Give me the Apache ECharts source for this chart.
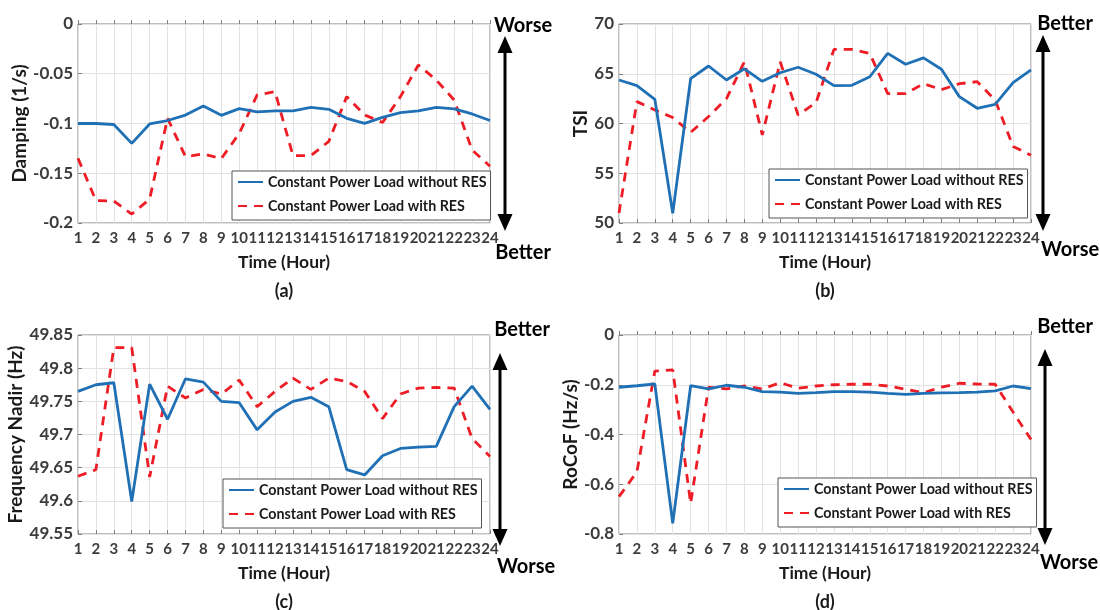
<!DOCTYPE html>
<html>
<head>
<meta charset="utf-8">
<script src="https://cdn.jsdelivr.net/npm/echarts@6/dist/echarts.min.js"></script>
<style>
html,body{margin:0;padding:0;background:#fff;}
#c{width:1100px;height:610px;}
</style>
</head>
<body>
<div id="c"></div>
<script>
// ---------- data ----------
const hours = [1,2,3,4,5,6,7,8,9,10,11,12,13,14,15,16,17,18,19,20,21,22,23,24];
const seriesNames = ['Constant Power Load without RES', 'Constant Power Load with RES'];

const dampingNoRES = [-0.100,-0.100,-0.101,-0.120,-0.1005,-0.097,-0.0915,-0.0824,-0.0918,-0.085,-0.0884,-0.0874,-0.0874,-0.0837,-0.0857,-0.0948,-0.0998,-0.0938,-0.089,-0.0874,-0.0837,-0.0854,-0.0904,-0.097];
const dampingRES   = [-0.135,-0.1775,-0.178,-0.191,-0.176,-0.0948,-0.1333,-0.1306,-0.1353,-0.110,-0.0713,-0.068,-0.1323,-0.1323,-0.118,-0.073,-0.0914,-0.099,-0.073,-0.0412,-0.0563,-0.0764,-0.1266,-0.143];

const tsiNoRES = [64.37,63.8,62.43,50.98,64.5,65.78,64.37,65.5,64.24,65.1,65.65,64.95,63.8,63.84,64.7,67.05,65.95,66.6,65.45,62.7,61.53,61.93,64.1,65.38];
const tsiRES   = [51.0,62.2,61.36,60.6,59.1,60.7,62.5,66.2,58.85,66.2,60.86,62.1,67.45,67.45,67.05,63.0,63.0,64.0,63.4,64.0,64.2,62.36,57.7,56.8];

const nadirNoRES = [49.765,49.775,49.778,49.599,49.776,49.723,49.784,49.779,49.750,49.748,49.707,49.734,49.750,49.756,49.742,49.647,49.639,49.668,49.679,49.681,49.682,49.742,49.773,49.738];
const nadirRES   = [49.637,49.647,49.831,49.831,49.636,49.773,49.755,49.768,49.761,49.782,49.742,49.765,49.785,49.768,49.785,49.780,49.765,49.724,49.761,49.770,49.771,49.770,49.694,49.667];

const rocofNoRES = [-0.21,-0.204,-0.197,-0.757,-0.204,-0.217,-0.202,-0.21,-0.228,-0.23,-0.235,-0.232,-0.228,-0.228,-0.23,-0.235,-0.239,-0.235,-0.233,-0.232,-0.23,-0.225,-0.205,-0.216];
const rocofRES   = [-0.65,-0.55,-0.145,-0.14,-0.677,-0.21,-0.217,-0.205,-0.217,-0.192,-0.214,-0.205,-0.2,-0.198,-0.198,-0.205,-0.218,-0.232,-0.21,-0.194,-0.197,-0.198,-0.31,-0.42];

const yTitles = ['Damping (1/s)', 'TSI', 'Frequency Nadir (Hz)', 'RoCoF (Hz/s)'];
const xTitle = 'Time (Hour)';
const panelTags = ['(a)', '(b)', '(c)', '(d)'];
const yRanges = [[-0.2, 0, 0.05], [50, 70, 5], [49.55, 49.85, 0.05], [-0.8, 0, 0.2]];
const arrowTexts = [['Worse','Better'], ['Better','Worse'], ['Better','Worse'], ['Better','Worse']];

// ---------- layout ----------
const FONT = 'Lato, "Open Sans", sans-serif';
const grids = [
  {left: 78, top: 24, width: 412, height: 199},
  {left: 619, top: 24, width: 412, height: 199},
  {left: 78, top: 335, width: 412, height: 199},
  {left: 619, top: 335, width: 412, height: 199}
];
const yNameGaps = [45, 29, 50, 38];
const legendPos = [
  {left: 232, top: 171}, {left: 769, top: 169}, {left: 223, top: 479}, {left: 778, top: 478}
];
const arrows = [
  {x: 505, y1: 36, y2: 231, t1: [523, 26], t2: [523, 253]},
  {x: 1043, y1: 35, y2: 231, t1: [1065, 24], t2: [1070, 250]},
  {x: 500, y1: 353, y2: 546, t1: [522, 330], t2: [526, 567]},
  {x: 1045, y1: 349, y2: 545, t1: [1065, 327], t2: [1069, 563]}
];
const BLUE = '#1f70b5';
const RED = '#ee1c25';
const FRAME = '#808080';

const allData = [[dampingNoRES, dampingRES], [tsiNoRES, tsiRES], [nadirNoRES, nadirRES], [rocofNoRES, rocofRES]];

const option = {
  animation: false,
  backgroundColor: '#fff',
  textStyle: {fontFamily: FONT},
  grid: grids.map(g => Object.assign({show: true, borderColor: FRAME, borderWidth: 1, containLabel: false, outerBoundsMode: 'none'}, g)),
  xAxis: [], yAxis: [], series: [], legend: [], graphic: []
};

grids.forEach((g, i) => {
  option.xAxis.push({
    type: 'value', gridIndex: i, min: 1, max: 24, interval: 1,
    name: xTitle, nameLocation: 'middle', nameGap: 30,
    nameTextStyle: {fontSize: 17.5, fontWeight: 'bold', color: '#1a1a1a', fontFamily: FONT},
    axisLine: {show: false},
    axisTick: {show: true, inside: true, length: 4, lineStyle: {color: FRAME}},
    axisLabel: {fontSize: 15, fontWeight: 'bold', color: '#3c3c3c', margin: 8, fontFamily: FONT,
                showMinLabel: true, showMaxLabel: true, hideOverlap: false},
    splitLine: {show: true, lineStyle: {color: '#e2e2e2', width: 1}}
  });
  option.yAxis.push({
    type: 'value', gridIndex: i, min: yRanges[i][0], max: yRanges[i][1], interval: yRanges[i][2],
    name: yTitles[i], nameLocation: 'middle', nameGap: yNameGaps[i],
    nameTextStyle: {fontSize: 19, fontWeight: 'bold', color: '#1a1a1a', fontFamily: FONT},
    axisLine: {show: false},
    axisTick: {show: true, inside: true, length: 4, lineStyle: {color: FRAME}},
    axisLabel: {fontSize: 17, fontWeight: 'bold', color: '#3c3c3c', margin: 5, fontFamily: FONT,
                showMinLabel: true, showMaxLabel: true},
    splitLine: {show: true, lineStyle: {color: '#e2e2e2', width: 1}}
  });
  allData[i].forEach((vals, k) => {
    option.series.push({
      type: 'line', name: seriesNames[k], xAxisIndex: i, yAxisIndex: i,
      data: hours.map((h, j) => [h, vals[j]]),
      symbol: 'none', smooth: false,
      lineStyle: k === 0 ? {color: BLUE, width: 2.8, type: 'solid'} : {color: RED, width: 2.8, type: [9, 7]},
      itemStyle: {color: k === 0 ? BLUE : RED, opacity: 0},
      z: k === 0 ? 3 : 2
    });
  });
  option.legend.push(Object.assign({
    orient: 'vertical', data: seriesNames, selectedMode: false,
    backgroundColor: '#fff', borderColor: '#555', borderWidth: 1, borderRadius: 0,
    padding: [4, 4, 7, 5], itemGap: 10, itemWidth: 25, itemHeight: 14,
    itemStyle: {opacity: 0},
    textStyle: {fontSize: 14.3, fontWeight: 'bold', color: '#1a1a1a', fontFamily: FONT}
  }, legendPos[i]));

  // panel tag
  option.graphic.push({
    type: 'text', x: g.left + g.width / 2, y: g.top + g.height + 68,
    style: {text: panelTags[i], font: 'bold 18px ' + FONT, fill: '#1a1a1a', align: 'center', verticalAlign: 'middle'}
  });
  // double arrow
  const a = arrows[i];
  const hw = 7.5, hh = 17;
  option.graphic.push({
    type: 'line', shape: {x1: a.x, y1: a.y1 + hh - 2, x2: a.x, y2: a.y2 - hh + 2},
    style: {stroke: '#000', lineWidth: 3}
  });
  option.graphic.push({
    type: 'polygon', shape: {points: [[a.x, a.y1], [a.x - hw, a.y1 + hh], [a.x + hw, a.y1 + hh]]},
    style: {fill: '#000'}
  });
  option.graphic.push({
    type: 'polygon', shape: {points: [[a.x, a.y2], [a.x - hw, a.y2 - hh], [a.x + hw, a.y2 - hh]]},
    style: {fill: '#000'}
  });
  option.graphic.push({
    type: 'text', x: a.t1[0], y: a.t1[1],
    style: {text: arrowTexts[i][0], font: 'bold 20px ' + FONT, fill: '#000', align: 'center', verticalAlign: 'middle'}
  });
  option.graphic.push({
    type: 'text', x: a.t2[0], y: a.t2[1],
    style: {text: arrowTexts[i][1], font: 'bold 20px ' + FONT, fill: '#000', align: 'center', verticalAlign: 'middle'}
  });
});

const chart = echarts.init(document.getElementById('c'), null, {renderer: 'canvas'});
chart.setOption(option);
</script>
</body>
</html>
